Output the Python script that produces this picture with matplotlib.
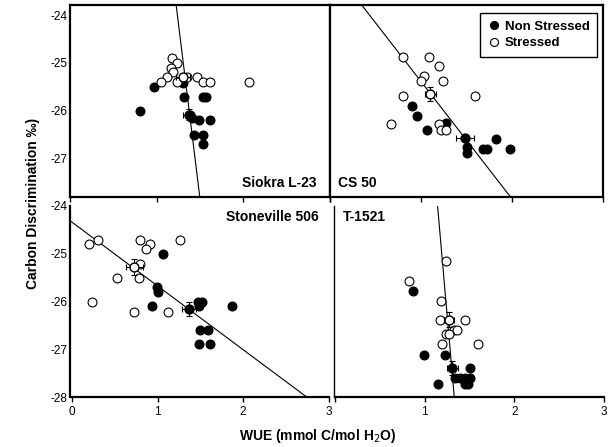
import numpy as np
import matplotlib
matplotlib.use("Agg")
from matplotlib import pyplot as plt

plt.rcParams['font.family'] = ['Liberation Sans', 'DejaVu Sans']
plt.rcParams['axes.unicode_minus'] = False

# cultivars, order: top-left, top-right, bottom-left, bottom-right
names = ['Siokra L-23', 'CS 50', 'Stoneville 506', 'T-1521']

# non stressed plants (WUE, carbon discrimination)
ns_x = [
    [0.81, 0.97, 1.30, 1.32, 1.54, 1.57, 1.39, 1.41, 1.49, 1.62, 1.43, 1.54, 1.53],
    [0.90, 0.96, 1.07, 1.28, 1.51, 1.51, 1.68, 1.72, 1.82, 1.98],
    [1.06, 0.99, 1.00, 0.93, 1.47, 1.52, 1.49, 1.87, 1.50, 1.59, 1.48, 1.61],
    [0.87, 0.99, 1.23, 1.51, 1.34, 1.39, 1.45, 1.51, 1.45, 1.48, 1.15],
]
ns_y = [
    [-26.01, -25.51, -25.42, -25.71, -25.71, -25.71, -26.09, -26.16, -26.21, -26.21, -26.52, -26.52, -26.71],
    [-25.90, -26.11, -26.40, -26.27, -26.76, -26.90, -26.81, -26.81, -26.59, -26.81],
    [-25.00, -25.70, -25.80, -26.10, -26.01, -26.01, -26.10, -26.10, -26.60, -26.60, -26.90, -26.90],
    [-25.79, -27.11, -27.11, -27.40, -27.61, -27.61, -27.61, -27.61, -27.72, -27.72, -27.72],
]

# stressed plants
s_x = [
    [1.18, 1.24, 1.17, 1.19, 1.12, 1.05, 1.24, 1.35, 1.47, 1.54, 1.61, 2.07],
    [0.80, 1.09, 1.20, 1.03, 1.00, 1.24, 0.80, 1.59, 0.67, 1.20, 1.22, 1.28],
    [0.20, 0.30, 0.79, 0.91, 0.86, 1.26, 0.80, 0.52, 0.78, 0.23, 0.73, 1.12],
    [1.24, 0.83, 1.18, 1.17, 1.45, 1.33, 1.36, 1.24, 1.27, 1.19, 1.59],
]
s_y = [
    [-24.89, -24.99, -25.11, -25.20, -25.30, -25.40, -25.40, -25.30, -25.30, -25.40, -25.40, -25.40],
    [-24.87, -24.87, -25.07, -25.27, -25.37, -25.37, -25.69, -25.69, -26.29, -26.29, -26.40, -26.40],
    [-24.80, -24.71, -24.71, -24.80, -24.91, -24.71, -25.21, -25.50, -25.50, -26.01, -26.21, -26.21],
    [-25.16, -25.58, -25.99, -26.39, -26.39, -26.59, -26.60, -26.69, -26.69, -26.90, -26.90],
]

# treatment means with standard errors
mean_ns_x = [1.37, 1.48, 1.37, 1.31]
mean_ns_y = [-26.09, -26.58, -26.15, -27.39]
se_ns_x = [0.065, 0.10, 0.08, 0.06]
se_ns_y = [0.12, 0.05, 0.15, 0.14]
mean_s_x = [1.30, 1.10, 0.73, 1.27]
mean_s_y = [-25.30, -25.66, -25.28, -26.38]
se_s_x = [0.08, 0.06, 0.10, 0.056]
se_s_y = [0.08, 0.15, 0.17, 0.15]

# regression lines
slope = [-14.8, -2.47, -1.334, -21.5]
intercept = [-5.655, -22.92, -24.34, 0.61]

W, H = 608, 447
fig = plt.figure(figsize=(W / 100, H / 100), dpi=100)

# axes boxes in pixels: left, top, right, bottom
boxes = [(70, 5, 330, 197), (330, 5, 603, 197), (70, 206, 332, 397), (334, 206, 604, 397)]
xlims = [(0, 3), (0, 2.98), (-0.024, 3.04), (-0.01, 3.0)]
ylims = [(-27.82, -23.78), (-27.82, -23.78), (-28, -24), (-28, -24)]
label_pos = [(0.95, 0.075, 'right'), (0.03, 0.075, 'left'), (0.95, 0.945, 'right'), (0.033, 0.945, 'left')]

for i in range(4):
    l, t, r, b = boxes[i]
    ax = fig.add_axes([l / W, 1 - b / H, (r - l) / W, (b - t) / H])
    ax.set_xlim(*xlims[i])
    ax.set_ylim(*ylims[i])

    xx = np.linspace(xlims[i][0], xlims[i][1], 200)
    ax.plot(xx, slope[i] * xx + intercept[i], color='black', lw=0.8, zorder=2)

    ax.plot(ns_x[i], ns_y[i], 'o', ms=6.4, mfc='black', mec='black', mew=0.8,
            ls='none', zorder=3, label='Non Stressed')
    ax.plot(s_x[i], s_y[i], 'o', ms=6.4, mfc='white', mec='black', mew=0.8,
            ls='none', zorder=4, label='Stressed')

    ax.errorbar(mean_ns_x[i], mean_ns_y[i], xerr=se_ns_x[i], yerr=se_ns_y[i],
                fmt='o', ms=6.4, mfc='black', mec='black', ecolor='black',
                elinewidth=0.8, capsize=2.5, capthick=0.8, zorder=5)
    ax.errorbar(mean_s_x[i], mean_s_y[i], xerr=se_s_x[i], yerr=se_s_y[i],
                fmt='o', ms=6.4, mfc='white', mec='black', ecolor='black',
                elinewidth=0.8, capsize=2.5, capthick=0.8, zorder=5)

    lx, ly, ha = label_pos[i]
    ax.text(lx, ly, names[i], transform=ax.transAxes, ha=ha, va='center',
            fontsize=10, fontweight='bold')

    ax.set_xticks([0, 1, 2, 3])
    ax.tick_params(axis='x', direction='out', length=3.5, width=1, labelsize=8.5, pad=3)
    ax.tick_params(axis='y', length=0, labelsize=8.5, pad=2)
    if i < 2:
        ax.set_xticklabels([])
        ax.set_yticks([-24, -25, -26, -27])
        for sp in ax.spines.values():
            sp.set_linewidth(1.6)
    else:
        ax.spines['top'].set_visible(False)
        ax.spines['right'].set_visible(False)
        ax.spines['bottom'].set_linewidth(1.6)
        ax.spines['bottom'].set_bounds(0, 3)
        ax.set_yticks([-24, -25, -26, -27, -28])
    if i == 2:
        ax.spines['left'].set_linewidth(1.6)
    if i == 3:
        ax.spines['left'].set_linewidth(1.0)
        ax.set_xticklabels(['', '1', '2', '3'])
    if i % 2 == 1:
        ax.set_yticklabels([])
    if i == 1:
        leg = ax.legend(loc='upper right', bbox_to_anchor=(0.978, 0.958),
                        borderaxespad=0, fancybox=False, edgecolor='black',
                        framealpha=1, prop={'weight': 'bold', 'size': 9.5},
                        handletextpad=0.35, labelspacing=0.35, borderpad=0.55,
                        handlelength=1.0, markerscale=0.9)
        leg.get_frame().set_linewidth(1.0)

fig.text(0.054, 0.546, 'Carbon Discrimination ‰)', rotation=90, ha='center',
         va='center', fontsize=10, fontweight='bold')
fig.text(0.523, 0.025, 'WUE (mmol C/mol H$_2$O)', ha='center', va='center',
         fontsize=10, fontweight='bold')

fig.savefig('out.png', dpi=100)
